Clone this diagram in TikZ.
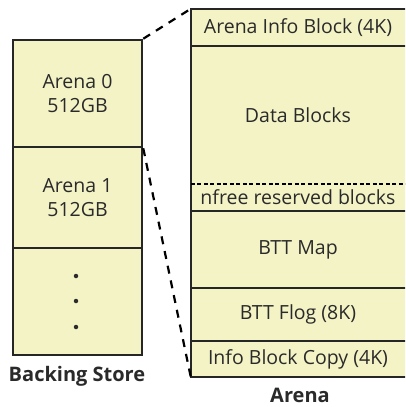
\documentclass[tikz,border=0pt]{standalone}
\usepackage{fontspec}
\setmainfont{Open Sans}
\definecolor{cellfill}{HTML}{F3F3C6}
\definecolor{edge}{HTML}{262626}
\definecolor{ink}{HTML}{2A2A2A}
\begin{document}
\begin{tikzpicture}[x=1pt,y=-1pt,
  cell/.style={rectangle, draw=edge, line width=2.5pt, fill=cellfill, inner sep=0pt, align=center, text=ink, font=\fontsize{19.5}{24}\selectfont},
  rcell/.style={rectangle, fill=cellfill, inner sep=0pt, minimum width=214pt, align=center, text=ink, font=\fontsize{19.5}{24}\selectfont},
  frame/.style={draw=edge, line width=2.5pt},
  link/.style={draw=black, line width=2.2pt, dash pattern=on 8pt off 7pt},
  caption/.style={font=\fontsize{20}{24}\selectfont\bfseries, text=ink, inner sep=0pt},
  dotmark/.style={circle, fill=ink, inner sep=0pt, minimum size=4.5pt}
]
\useasboundingbox (0,0) rectangle (405,407);
\clip (0,0) rectangle (405,407);
% left: backing store
\node[cell, minimum width=129pt, minimum height=107pt] (a0) at (77.5,93.5) {Arena 0\\512GB};
\node[cell, minimum width=129pt, minimum height=101pt] (a1) at (77.5,197.5) {Arena 1\\512GB};
\node[cell, minimum width=129pt, minimum height=107pt] (a2) at (77.5,301.5) {};
\node[dotmark] (d1) at (76,276) {};
\node[dotmark] (d2) at (76,301) {};
\node[dotmark] (d3) at (76,327) {};
\node[caption] (bs) at (77,376) {Backing Store};
% right: arena
\node[rcell, minimum height=37pt]  (r0) at (298,27.5)  {Arena Info Block (4K)};
\node[rcell, minimum height=138pt] (r1) at (298,115)   {Data Blocks};
\node[rcell, minimum height=27pt]  (r2) at (298,197.5) {nfree reserved blocks};
\node[rcell, minimum height=77pt]  (r3) at (298,249.5) {BTT Map};
\node[rcell, minimum height=53pt]  (r4) at (298,314.5) {BTT Flog (8K)};
\node[rcell, minimum height=36pt]  (r5) at (298,359)   {Info Block Copy (4K)};
\node[caption] (ar) at (300,395) {Arena};
\draw[frame] ([xshift=5pt]r0.north east) -- (r0.north west) -- (r5.south west) -- ([xshift=5pt]r5.south east);
\draw[frame] (r0.south west) -- ([xshift=5pt]r0.south east);
\draw[frame] (r3.south west) -- ([xshift=5pt]r3.south east);
\draw[frame] (r4.south west) -- ([xshift=5pt]r4.south east);
\draw[frame] (r2.south west) -- ([xshift=5pt]r2.south east);
\draw[draw=black, line width=1.8pt, dash pattern=on 4pt off 2.5pt] (r1.south west) -- ([xshift=5pt]r1.south east);
% connectors
\draw[link] (a0.north east) -- (r0.north west);
\draw[link] (a0.south east) -- (r5.south west);
\end{tikzpicture}
\end{document}
